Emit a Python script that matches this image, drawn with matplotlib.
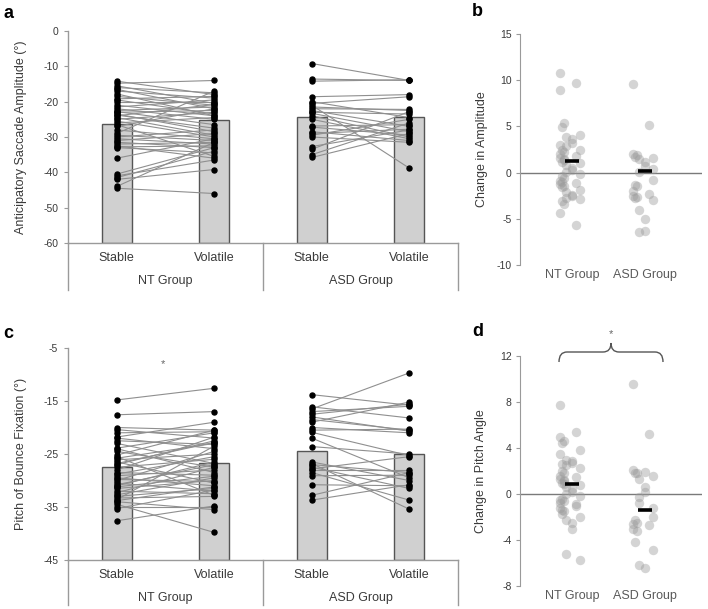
import matplotlib
matplotlib.use("Agg")
import matplotlib.pyplot as plt
from matplotlib.path import Path
from matplotlib.patches import PathPatch
from matplotlib.transforms import blended_transform_factory
import numpy as np

plt.rcParams['font.family'] = ['Liberation Sans', 'DejaVu Sans']
plt.rcParams['axes.unicode_minus'] = False

# ---------------- data ----------------
categories = ["Stable", "Volatile", "Stable", "Volatile"]
groups = ["NT Group", "ASD Group"]

# Panel a: anticipatory saccade amplitude
a_nt_stable = [-14.2, -14.8, -15.5, -16.0, -16.5, -17.0, -17.8, -18.5, -19.2, -19.5, -20.0,
               -21.5, -22.0, -22.5, -23.0, -23.5, -24.0, -24.5, -25.0, -26.0, -27.0, -28.0,
               -29.0, -29.5, -30.0, -30.5, -31.0, -31.5, -32.0, -32.5, -32.8, -33.0, -22.8,
               -23.8, -21.0, -25.5, -26.5, -36.0, -40.5, -41.0, -41.5, -42.0, -44.0, -44.5]
a_nt_volatile = [-18.0, -14.0, -20.5, -17.5, -22.0, -19.0, -24.0, -21.0, -18.5, -23.5, -20.0,
                 -19.5, -25.0, -21.5, -22.5, -28.5, -20.8, -29.5, -23.0, -24.5, -22.0, -30.5,
                 -17.0, -31.0, -28.0, -32.0, -29.0, -33.0, -31.5, -36.0, -32.5, -34.5, -26.5,
                 -27.5, -24.0, -30.0, -35.5, -30.5, -33.0, -36.5, -34.0, -39.2, -31.5, -46.0]
a_asd_stable = [-9.2, -13.6, -14.2, -18.6, -20.0, -20.5, -21.0, -21.5, -22.5, -23.3, -23.0, -24.0,
                -26.9, -27.2, -28.5, -29.0, -29.5, -30.0, -32.7, -33.5, -35.0, -35.8, -22.0, -25.0]
a_asd_volatile = [-14.0, -14.0, -13.8, -18.0, -24.5, -18.6, -38.8, -22.5, -27.0, -28.5, -23.5, -30.0,
                  -26.5, -29.5, -31.0, -27.8, -25.0, -31.5, -28.0, -22.8, -26.0, -29.0, -22.2, -30.5]
a_means = [-26.4, -25.3, -24.2, -24.2]

# Panel b: change in amplitude
b_nt_change = [10.8, 9.7, 8.9, 5.4, 4.9, 4.1, 3.8, 3.6, 3.2, 2.9, 2.5, 2.4, 2.2, 2.0, 1.8, 1.6,
               1.4, 1.2, 1.0, 0.8, 0.5, 0.3, 0.1, -0.2, -0.4, -0.6, -0.9, -1.1, -1.2, -1.4, -1.6,
               -1.9, -2.1, -2.4, -2.5, -2.7, -2.9, -3.1, -3.4, -4.4, -5.7, 3.0, 1.5, -1.0]
b_asd_change = [9.6, 5.2, 2.0, 1.9, 1.7, 1.6, 1.5, 1.2, 0.7, 0.1, -0.8, -1.3, -1.5, -2.0, -2.3,
                -2.5, -2.6, -2.8, -3.0, -4.1, -5.0, -6.3, -6.4, 0.4]
b_means = [1.3, 0.2]

# Panel c: pitch of bounce fixation
c_nt_stable = [-14.8, -17.6, -20.0, -20.4, -21.8, -22.0, -23.9, -24.5, -25.2, -25.8, -26.1,
               -26.5, -27.0, -27.5, -28.0, -28.5, -29.1, -29.5, -30.0, -30.5, -31.0, -31.5,
               -32.0, -32.3, -32.7, -33.0, -33.3, -33.6, -34.0, -34.5, -35.0, -35.3, -37.6,
               -21.0, -23.0, -24.0, -26.8, -29.8, -31.2, -28.8, -25.5, -22.5, -30.8, -33.8]
c_nt_volatile = [-12.6, -17.0, -20.5, -22.0, -19.0, -24.0, -21.0, -27.5, -20.5, -23.0, -25.0,
                 -30.5, -22.5, -26.0, -21.8, -29.0, -28.0, -31.0, -24.5, -32.0, -26.5, -30.0,
                 -32.5, -27.5, -29.5, -31.5, -33.0, -23.5, -35.5, -39.8, -35.0, -31.8, -34.8,
                 -20.8, -26.8, -28.5, -22.8, -30.2, -29.2, -25.5, -32.8, -23.2, -27.0, -31.2]
c_asd_stable = [-13.8, -16.1, -16.5, -17.0, -17.5, -18.0, -18.5, -19.0, -20.0, -20.9, -23.6,
                -26.5, -27.0, -27.5, -28.0, -28.5, -29.1, -30.8, -32.8, -33.7, -26.8, -27.8,
                -20.5, -22.0]
c_asd_volatile = [-15.8, -18.2, -9.7, -16.0, -15.6, -20.7, -20.5, -15.2, -21.0, -25.3, -25.0,
                  -30.0, -28.5, -31.5, -28.0, -33.7, -29.0, -31.0, -28.5, -30.8, -35.4, -25.5,
                  -20.3, -29.5]
c_means = [-27.5, -26.7, -24.4, -25.0]

# Panel d: change in pitch angle
d_nt_change = [7.7, 5.4, 5.0, 4.6, 4.4, 3.8, 3.0, 2.9, 2.7, 2.5, 2.3, 2.0, 1.8, 1.6, 1.5, 1.3,
               1.1, 1.0, 0.8, 0.6, 0.4, 0.2, 0.0, -0.2, -0.4, -0.6, -0.8, -1.0, -1.2, -1.5, -1.7,
               -2.0, -2.3, -2.5, -3.0, -5.2, -5.7, 2.6, 1.2, -0.5, -0.9, 3.5, 0.9, -1.4]
d_asd_change = [9.6, 5.2, 2.1, 1.8, 1.8, 1.6, 1.3, 0.6, 0.2, -0.8, -1.2, -2.3, -2.5, -2.6, -2.7,
                -3.0, -3.2, -4.2, -4.9, -6.2, -6.4, 1.9, -0.3, -2.0]
d_means = [0.85, -1.4]

# ---------------- style ----------------
W, H = 708, 609
TXT = '#3a3a3a'
SPINE = '#9a9a9a'
BAR_FC = '#d0d0d0'
BAR_EC = '#555555'
LINE_C = '#8f8f8f'

fig = plt.figure(figsize=(W / 100, H / 100), dpi=100)


def px_axes(l, t, r, b):
    return fig.add_axes([l / W, (H - b) / H, (r - l) / W, (b - t) / H])


def paired_panel(ax, nt_s, nt_v, asd_s, asd_v, means, ylim, yticks, ylabel, ext_px):
    x = np.arange(4)
    ax.bar(x, np.array(means) - ylim[0], bottom=ylim[0], width=0.31,
           color=BAR_FC, edgecolor=BAR_EC, linewidth=1.0, zorder=1)
    for (s, v, x0) in [(nt_s, nt_v, 0), (asd_s, asd_v, 2)]:
        for a, b in zip(s, v):
            ax.plot([x0, x0 + 1], [a, b], color=LINE_C, lw=0.8, zorder=2)
        ax.plot([x0] * len(s), s, 'o', color='black', ms=3.6, zorder=3, clip_on=False)
        ax.plot([x0 + 1] * len(v), v, 'o', color='black', ms=3.6, zorder=3, clip_on=False)
    ax.set_xlim(-0.5, 3.5)
    ax.set_ylim(*ylim)
    ax.set_yticks(yticks)
    ax.set_xticks([])
    for sp in ['top', 'right']:
        ax.spines[sp].set_visible(False)
    for sp in ['left', 'bottom']:
        ax.spines[sp].set_color(SPINE)
        ax.spines[sp].set_linewidth(1.0)
    ax.tick_params(axis='y', length=3, color=SPINE, labelsize=7.5, labelcolor=TXT, pad=4)
    ax.set_ylabel(ylabel, fontsize=9, color=TXT)
    h_px = ax.get_position().height * H
    ext = -ext_px / h_px
    tr = blended_transform_factory(ax.transData, ax.transAxes)
    for xv in [-0.5, 1.5, 3.5]:
        ax.plot([xv, xv], [0, ext], transform=tr, color=SPINE, lw=1.0, clip_on=False)
    for i, c in enumerate(categories):
        ax.text(i, -15 / h_px, c, transform=tr, ha='center', va='center', fontsize=9, color=TXT)
    for i, g in enumerate(groups):
        ax.text(2 * i + 0.5, -38 / h_px, g, transform=tr, ha='center', va='center',
                fontsize=9, color=TXT)


def jitter(n):
    return np.array([(((k * k * 5 + k * 3) % 13) - 6) / 6.0 * 0.16 for k in range(n)])


def change_panel(ax, nt, asd, means, ylim, yticks, ylabel):
    for x0, vals in [(1, nt), (2, asd)]:
        ax.scatter(x0 + jitter(len(vals)), vals, s=46, color='#9a9a9a', alpha=0.42,
                   linewidths=0, zorder=2)
    for x0, m in zip([1, 2], means):
        ax.plot([x0 - 0.1, x0 + 0.1], [m, m], color='black', lw=2.6, zorder=4,
                solid_capstyle='butt')
    ax.axhline(0, color='#7a7a7a', lw=1.0, zorder=1)
    ax.set_xlim(1 - 52 / 73, 2 + 57 / 73)
    ax.set_ylim(*ylim)
    ax.set_yticks(yticks)
    ax.set_xticks([1, 2])
    ax.set_xticklabels(groups, fontsize=9, color='#5a5a5a')
    ax.tick_params(axis='x', length=0, pad=3)
    ax.tick_params(axis='y', length=3, color=SPINE, labelsize=7.5, labelcolor=TXT, pad=3)
    for sp in ['top', 'right', 'bottom']:
        ax.spines[sp].set_visible(False)
    ax.spines['left'].set_color(SPINE)
    ax.set_ylabel(ylabel, fontsize=9, color=TXT)


# Panel a
ax_a = px_axes(68, 31, 458, 243)
paired_panel(ax_a, a_nt_stable, a_nt_volatile, a_asd_stable, a_asd_volatile, a_means,
             (-60, 0), [0, -10, -20, -30, -40, -50, -60],
             'Anticipatory Saccade Amplitude (°)', 47)
ax_a.yaxis.set_label_coords(-41 / 390, 0.5)

# Panel b
ax_b = px_axes(520, 34, 702, 265)
change_panel(ax_b, b_nt_change, b_asd_change, b_means, (-10, 15),
             [-10, -5, 0, 5, 10, 15], 'Change in Amplitude')
ax_b.yaxis.set_label_coords(-32 / 182, 0.5)

# Panel c
ax_c = px_axes(68, 348, 458, 560)
paired_panel(ax_c, c_nt_stable, c_nt_volatile, c_asd_stable, c_asd_volatile, c_means,
             (-45, -5), [-5, -15, -25, -35, -45],
             'Pitch of Bounce Fixation (°)', 45)
ax_c.yaxis.set_label_coords(-41 / 390, 0.5)

# Panel d
ax_d = px_axes(520, 356, 702, 586)
change_panel(ax_d, d_nt_change, d_asd_change, d_means, (-8, 12),
             [-8, -4, 0, 4, 8, 12], 'Change in Pitch Angle')
ax_d.yaxis.set_label_coords(-33 / 182, 0.5)


def fpt(px, py):
    return (px / W, (H - py) / H)


# significance marks
fig.text(*fpt(163, 364), '*', ha='center', va='center', fontsize=8, color='#666666')
fig.text(*fpt(611, 334), '*', ha='center', va='center', fontsize=8, color='#666666')

# brace in panel d
pts = [(559, 362), (559, 352), (567, 352),
       (603, 352), (611, 352), (611, 343),
       (611, 352), (619, 352),
       (655, 352), (663, 352), (663, 362)]
codes = [Path.MOVETO, Path.CURVE3, Path.CURVE3,
         Path.LINETO, Path.CURVE3, Path.CURVE3,
         Path.CURVE3, Path.CURVE3,
         Path.LINETO, Path.CURVE3, Path.CURVE3]
verts = [fpt(x, y) for x, y in pts]
fig.add_artist(PathPatch(Path(verts, codes), transform=fig.transFigure, fill=False,
                         edgecolor='#555555', lw=1.0))

# panel letters
for letter, (px, py) in zip('abcd', [(3, 13), (472, 11), (3, 333), (472, 331)]):
    fig.text(*fpt(px, py), letter, ha='left', va='center', fontsize=13,
             fontweight='bold', color='black')

fig.savefig('out.png', dpi=100)
